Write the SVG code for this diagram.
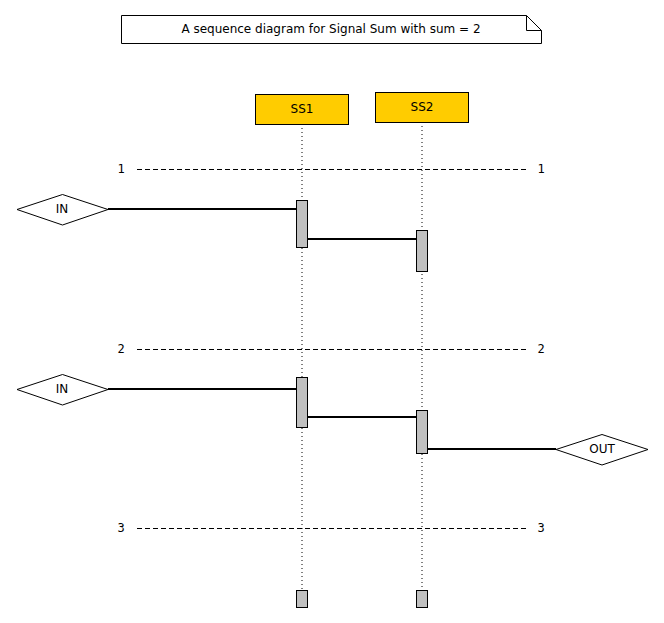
<svg xmlns="http://www.w3.org/2000/svg" width="664" height="623" viewBox="0 0 664 623">
<style>
text{font-family:"DejaVu Sans",sans-serif;font-size:12px;fill:#000;text-anchor:middle;dominant-baseline:central}
.num{font-family:"DejaVu Sans Mono",monospace}
.obj{fill:#ffcc00;stroke:#000;stroke-width:1}
.act{fill:#c0c0c0;stroke:#000;stroke-width:1}
.life{stroke:#000;stroke-width:1;stroke-dasharray:1,3;fill:none}
.sep{stroke:#000;stroke-width:1;stroke-dasharray:5,3;fill:none}
.msg{stroke:#000;stroke-width:2;fill:none}
.ext{fill:#fff;stroke:#000;stroke-width:1}
</style>
<rect width="664" height="623" fill="#fff"/>
<g id="title">
<path d="M121.5,15.5 H526.5 L541.5,30.5 V43.5 H121.5 Z" fill="#fff" stroke="#000"/>
<path d="M526.5,15.5 V30.5 H541.5" fill="none" stroke="#000"/>
<text x="331" y="29">A sequence diagram for Signal Sum with sum = 2</text>
</g>
<g id="lifelines">
<line class="life" x1="302" y1="124" x2="302" y2="590"/>
<line class="life" x1="422" y1="122" x2="422" y2="590"/>
</g>
<g id="SS1">
<rect class="obj" x="255.5" y="94.5" width="93" height="30"/>
<text x="302" y="109">SS1</text>
</g>
<g id="SS2">
<rect class="obj" x="375.5" y="92.5" width="93" height="30"/>
<text x="422" y="107">SS2</text>
</g>
<g id="separators">
<text class="num" x="121" y="169">1</text>
<line class="sep" x1="137" y1="169.5" x2="527" y2="169.5"/>
<text class="num" x="541" y="169">1</text>
<text class="num" x="121" y="349">2</text>
<line class="sep" x1="137" y1="349.5" x2="527" y2="349.5"/>
<text class="num" x="541" y="349">2</text>
<text class="num" x="121" y="528">3</text>
<line class="sep" x1="137" y1="528.5" x2="527" y2="528.5"/>
<text class="num" x="541" y="528">3</text>
</g>
<g id="connectors">
<line class="msg" x1="108" y1="209" x2="296" y2="209"/>
<line class="msg" x1="307" y1="239" x2="416" y2="239"/>
<line class="msg" x1="108" y1="389" x2="296" y2="389"/>
<line class="msg" x1="307" y1="417" x2="416" y2="417"/>
<line class="msg" x1="427" y1="449" x2="556" y2="449"/>
</g>
<g id="IN1">
<polygon class="ext" points="17,209.5 62.5,194.5 108,209.5 62.5,225"/>
<text x="62" y="209">IN</text>
</g>
<g id="IN2">
<polygon class="ext" points="17,389.5 62.5,374.5 108,389.5 62.5,405"/>
<text x="62" y="389">IN</text>
</g>
<g id="OUT">
<polygon class="ext" points="556,449.5 602,434.5 648,449.5 602,465"/>
<text x="602" y="449">OUT</text>
</g>
<g id="activations">
<rect class="act" x="296.5" y="200.5" width="11" height="47"/>
<rect class="act" x="416.5" y="230.5" width="11" height="41"/>
<rect class="act" x="296.5" y="377.5" width="11" height="50"/>
<rect class="act" x="416.5" y="410.5" width="11" height="43"/>
<rect class="act" x="296.5" y="590.5" width="11" height="17"/>
<rect class="act" x="416.5" y="590.5" width="11" height="17"/>
</g>
</svg>
